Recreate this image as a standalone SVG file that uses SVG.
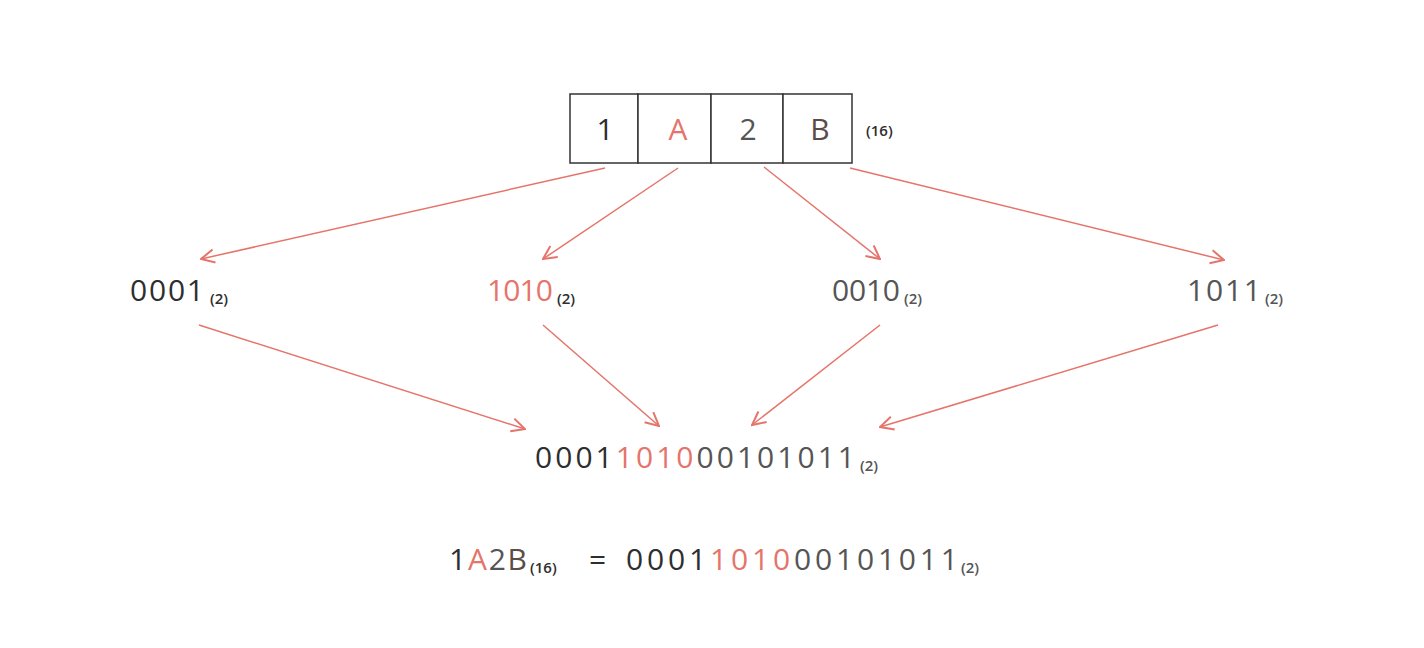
<svg xmlns="http://www.w3.org/2000/svg" width="1424" height="648" viewBox="0 0 1424 648">
<defs>
<marker id="ah" viewBox="0 0 12 12" refX="11" refY="6" markerWidth="16" markerHeight="16" markerUnits="userSpaceOnUse" orient="auto">
<path d="M1,1 L11,6 L1,11" fill="none" stroke="#e5746b" stroke-width="1.5"/>
</marker>
<style>
.t{font-family:"Open Sans","Liberation Sans",sans-serif;}
.big{font-size:30px;font-weight:500;}
.sm{font-size:15px;font-weight:600;}
.blk{fill:#2e2e2e;}
.gry{fill:#555;}
.red{fill:#e5746b;}
.brn{fill:#5b4c46;}
.cell{fill:#fff;stroke:#333;stroke-width:1.5;}
.arr{stroke:#e5746b;stroke-width:1.5;fill:none;marker-end:url(#ah);}
</style>
</defs>
<rect width="1424" height="648" fill="#fff"/>
<g id="hexbox">
<rect class="cell" x="570" y="94" width="68" height="69"/>
<rect class="cell" x="638" y="94" width="73" height="69"/>
<rect class="cell" x="711" y="94" width="72" height="69"/>
<rect class="cell" x="783" y="94" width="69" height="69"/>
<text class="t big blk" x="605" y="140" text-anchor="middle">1</text>
<text class="t big red" x="678" y="140" text-anchor="middle">A</text>
<text class="t big gry" x="748" y="140" text-anchor="middle">2</text>
<text class="t big brn" x="820" y="140" text-anchor="middle">B</text>
<text class="t sm blk" x="866" y="136">(16)</text>
</g>
<g id="connectors">
<line class="arr" x1="605" y1="168" x2="201" y2="259"/>
<line class="arr" x1="678" y1="168" x2="543" y2="259"/>
<line class="arr" x1="764" y1="167" x2="880" y2="259"/>
<line class="arr" x1="850" y1="168" x2="1224" y2="260"/>
<line class="arr" x1="199" y1="325" x2="525" y2="429"/>
<line class="arr" x1="543" y1="325" x2="659" y2="426"/>
<line class="arr" x1="880" y1="325" x2="752" y2="425"/>
<line class="arr" x1="1218" y1="325" x2="880" y2="427"/>
</g>
<g id="n0001">
<text class="t big blk" x="130" y="301" textLength="74" lengthAdjust="spacing">0001</text>
<text class="t sm blk" x="210" y="304">(2)</text>
</g>
<g id="n1010">
<text class="t big red" x="487" y="301" textLength="66" lengthAdjust="spacing">1010</text>
<text class="t sm blk" x="557" y="304">(2)</text>
</g>
<g id="n0010">
<text class="t big gry" x="832" y="301" textLength="68" lengthAdjust="spacing">0010</text>
<text class="t sm gry" x="904" y="304">(2)</text>
</g>
<g id="n1011">
<text class="t big gry" x="1187" y="301" textLength="74" lengthAdjust="spacing">1011</text>
<text class="t sm gry" x="1265" y="304">(2)</text>
</g>
<g id="combined">
<text class="t big" x="535" y="468" textLength="320" lengthAdjust="spacing"><tspan class="blk">0001</tspan><tspan class="red">1010</tspan><tspan class="gry">00101011</tspan></text>
<text class="t sm gry" x="860" y="471">(2)</text>
</g>
<g id="equation">
<text class="t big" x="449" y="570" textLength="78" lengthAdjust="spacing"><tspan class="blk">1</tspan><tspan class="red">A</tspan><tspan class="gry">2</tspan><tspan class="brn">B</tspan></text>
<text class="t sm blk" x="530" y="573">(16)</text>
<text class="t big blk" x="589" y="570">=</text>
<text class="t big" x="626" y="570" textLength="332" lengthAdjust="spacing"><tspan class="blk">0001</tspan><tspan class="red">1010</tspan><tspan class="gry">00101011</tspan></text>
<text class="t sm gry" x="961" y="573">(2)</text>
</g>
</svg>
